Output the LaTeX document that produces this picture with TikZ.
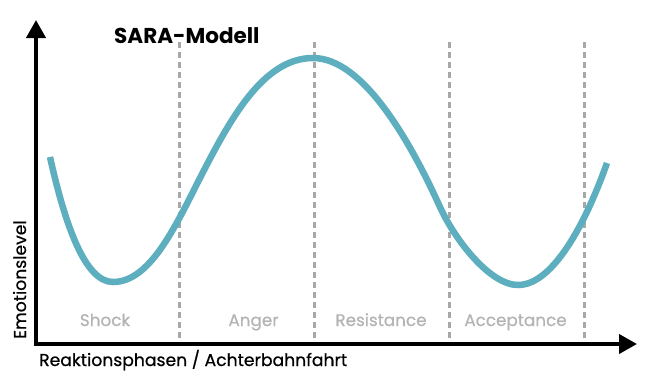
\documentclass[tikz,border=0pt]{standalone}
\usepackage{fontspec}
\setmainfont{Poppins}
\newfontfamily\medfont{Poppins}[FakeBold=0.6]
\usetikzlibrary{arrows.meta}
\definecolor{teal}{HTML}{5DAEBE}
\definecolor{dashgray}{HTML}{A8A8A8}
\definecolor{labelgray}{HTML}{B4B4B4}
\tikzset{
  axis/.style={line width=4pt,-{Triangle[length=18pt,width=19pt]}},
  divider/.style={dashgray,line width=3pt,dash pattern=on 6pt off 4pt},
  phase/.style={labelgray,font=\medfont\fontsize{16.8}{20}\selectfont,anchor=base,inner sep=0pt},
  axislabel/.style={font=\medfont\fontsize{17.2}{20}\selectfont,inner sep=0pt},
  curve/.style={teal,line width=6.5pt},
}
\begin{document}
\begin{tikzpicture}[x=1pt,y=-1pt]
\useasboundingbox (0,0) rectangle (650,384);
\coordinate (ytop) at (36,20);
\coordinate (xend) at (637,344);
\coordinate (ystart) at (36,346);
\coordinate (xstart) at (34,344);
% dividers
\foreach \x/\n in {179/a,314/b,449/c,584/d}{
  \coordinate (t\n) at (\x,42);
  \coordinate (b\n) at (\x,340);
  \draw[divider] (t\n) -- (b\n);
}
% curve
\coordinate (c0) at (50,157);
\coordinate (c1) at (113,282);
\coordinate (c2) at (200,178);
\coordinate (c3) at (313,58);
\coordinate (c4) at (440,207);
\coordinate (c5) at (518,285);
\coordinate (c6) at (607,163);
\draw[curve] (c0) .. controls (65,224.5) and (85,282) .. (c1)
  .. controls (150,282) and (175,227) .. (c2)
  .. controls (230,119.5) and (263,58) .. (c3)
  .. controls (363,58) and (410,141) .. (c4)
  .. controls (455,240) and (490,285) .. (c5)
  .. controls (550,285) and (582,233) .. (c6);
% axes
\draw[axis] (ystart) -- (ytop);
\draw[axis] (xstart) -- (xend);
% texts
\node[anchor=base west,font=\fontsize{21.5}{26}\bfseries\selectfont,inner sep=0pt] (title) at (114,43) {SARA-Modell};
\node[axislabel,anchor=base west] (xlabel) at (39,366) {Reaktionsphasen / Achterbahnfahrt};
\node[axislabel,anchor=base west,rotate=90] (ylabel) at (26,339) {Emotionslevel};
\node[phase] (p1) at (105,326) {Shock};
\node[phase] (p2) at (253.5,326) {Anger};
\node[phase] (p3) at (381,326) {Resistance};
\node[phase] (p4) at (515.5,326) {Acceptance};
\end{tikzpicture}
\end{document}
